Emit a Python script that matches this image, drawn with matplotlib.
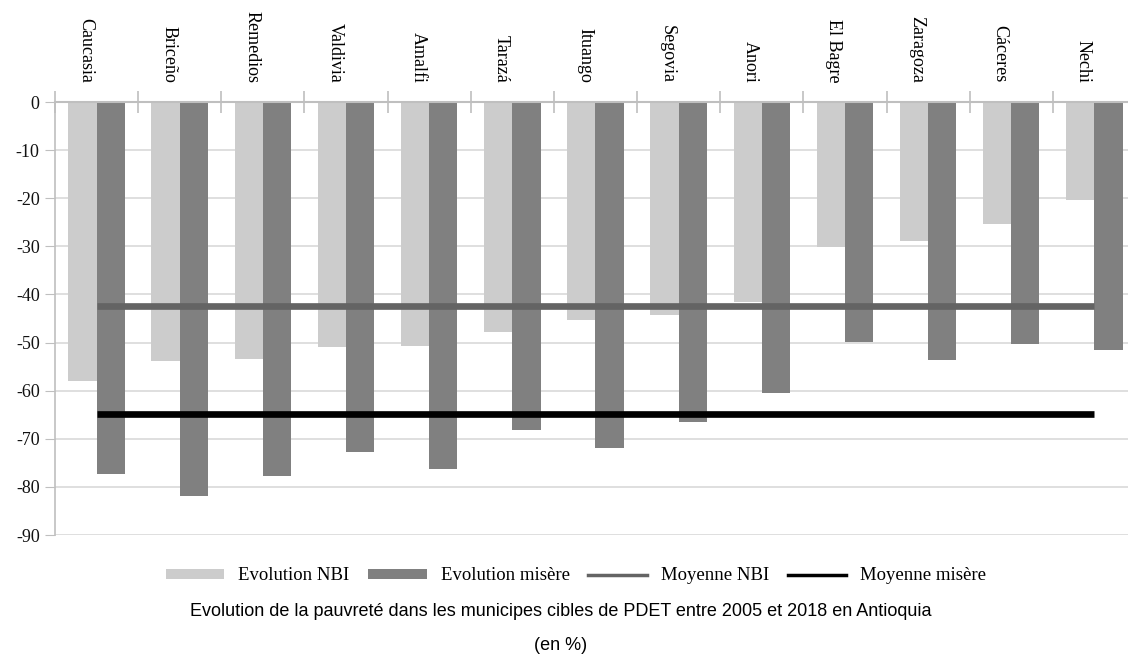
import matplotlib
matplotlib.use("Agg")
import matplotlib.pyplot as plt
import matplotlib.transforms as mtransforms
from matplotlib.lines import Line2D
from matplotlib.patches import Patch

plt.rcParams['axes.unicode_minus'] = False

municipios = ["Caucasia", "Briceño", "Remedios", "Valdivia", "Amalfi", "Tarazá",
              "Ituango", "Segovia", "Anori", "El Bagre", "Zaragoza", "Cáceres", "Nechi"]
evolution_nbi = [-58.0, -53.9, -53.4, -51.0, -50.8, -47.8, -45.3, -44.2, -41.6,
                 -30.1, -28.9, -25.3, -20.4]
evolution_misere = [-77.3, -81.9, -77.7, -72.8, -76.3, -68.2, -72.0, -66.5, -60.4,
                    -49.8, -53.6, -50.4, -51.5]
moyenne_nbi = [-42.3, -42.3, -42.3, -42.3, -42.3, -42.3, -42.3, -42.3, -42.3,
               -42.3, -42.3, -42.3, -42.3]
moyenne_misere = [-64.8, -64.8, -64.8, -64.8, -64.8, -64.8, -64.8, -64.8, -64.8,
                  -64.8, -64.8, -64.8, -64.8]
y_ticks = [0, -10, -20, -30, -40, -50, -60, -70, -80, -90]
legend_labels = ["Evolution NBI", "Evolution misère", "Moyenne NBI", "Moyenne misère"]
titre = "Evolution de la pauvreté dans les municipes cibles de PDET entre 2005 et 2018 en Antioquia"
unite = "(en %)"

SERIF = "Liberation Serif"
SANS = "Liberation Sans"
C_LIGHT = "#CCCCCC"
C_DARK = "#808080"
C_NBI = "#646464"
C_MIS = "#000000"
C_AXIS = "#BFBFBF"
C_GRID = "#D9D9D9"

W, H = 1128, 666
fig = plt.figure(figsize=(W / 100, H / 100), dpi=100)
cat_w = 83.15
left_px, top_px, bot_px = 55, 102, 535
ax = fig.add_axes([left_px / W, 1 - bot_px / H, 13 * cat_w / W, (bot_px - top_px) / H])

n = len(municipios)
x = list(range(n))
bw = 0.34
ax.bar([i - bw / 2 for i in x], evolution_nbi, width=bw, color=C_LIGHT, zorder=2)
ax.bar([i + bw / 2 for i in x], evolution_misere, width=bw, color=C_DARK, zorder=2)
ax.plot(x, moyenne_nbi, color=C_NBI, lw=4.8, solid_capstyle='butt', zorder=3)
ax.plot(x, moyenne_misere, color=C_MIS, lw=4.8, solid_capstyle='butt', zorder=4)

ax.set_xlim(-0.5, n - 0.5)
ax.set_ylim(-90, 0)
ax.set_yticks(y_ticks)
ax.set_yticklabels([str(v) for v in y_ticks], fontfamily=SERIF, fontsize=13)
ax.yaxis.grid(True, color=C_GRID, lw=1.2, zorder=0)
ax.set_axisbelow(True)

for s in ["right", "bottom"]:
    ax.spines[s].set_visible(False)
ax.spines["left"].set_color(C_AXIS)
ax.spines["top"].set_color(C_AXIS)
ax.spines["left"].set_linewidth(1.2)
ax.spines["top"].set_linewidth(1.5)
ax.tick_params(axis='y', which='major', length=7, color=C_AXIS, pad=4, labelcolor='#111111')

ax.xaxis.tick_top()
ax.set_xticks(x)
ax.set_xticklabels(municipios, rotation=-90, fontfamily=SERIF, fontsize=13,
                   ha='center', va='bottom')
ax.set_xticks([i - 0.5 for i in range(n + 1)], minor=True)
ax.tick_params(axis='x', which='major', length=0, pad=14, top=True, bottom=False)
ax.tick_params(axis='x', which='minor', direction='inout', length=16, width=1.2,
               color=C_AXIS, top=True, bottom=False)
off = mtransforms.ScaledTranslation(-0.11, 0, fig.dpi_scale_trans)
for lab in ax.get_xticklabels():
    lab.set_transform(lab.get_transform() + off)

handles = [Patch(facecolor=C_LIGHT), Patch(facecolor=C_DARK),
           Line2D([0], [0], color=C_NBI, lw=2.5), Line2D([0], [0], color=C_MIS, lw=2.5)]
fig.legend(handles, legend_labels, loc='center', bbox_to_anchor=(576 / W, 1 - 576 / H),
           ncol=4, frameon=False, prop={'family': SERIF, 'size': 13.5},
           handlelength=3.1, handletextpad=0.75, columnspacing=1.0, handleheight=0.5)

fig.text(561 / W, 1 - 612 / H, titre, ha='center', va='center', fontfamily=SANS, fontsize=13)
fig.text(561 / W, 1 - 645 / H, unite, ha='center', va='center', fontfamily=SANS, fontsize=13)

fig.savefig("out.png", dpi=100)
